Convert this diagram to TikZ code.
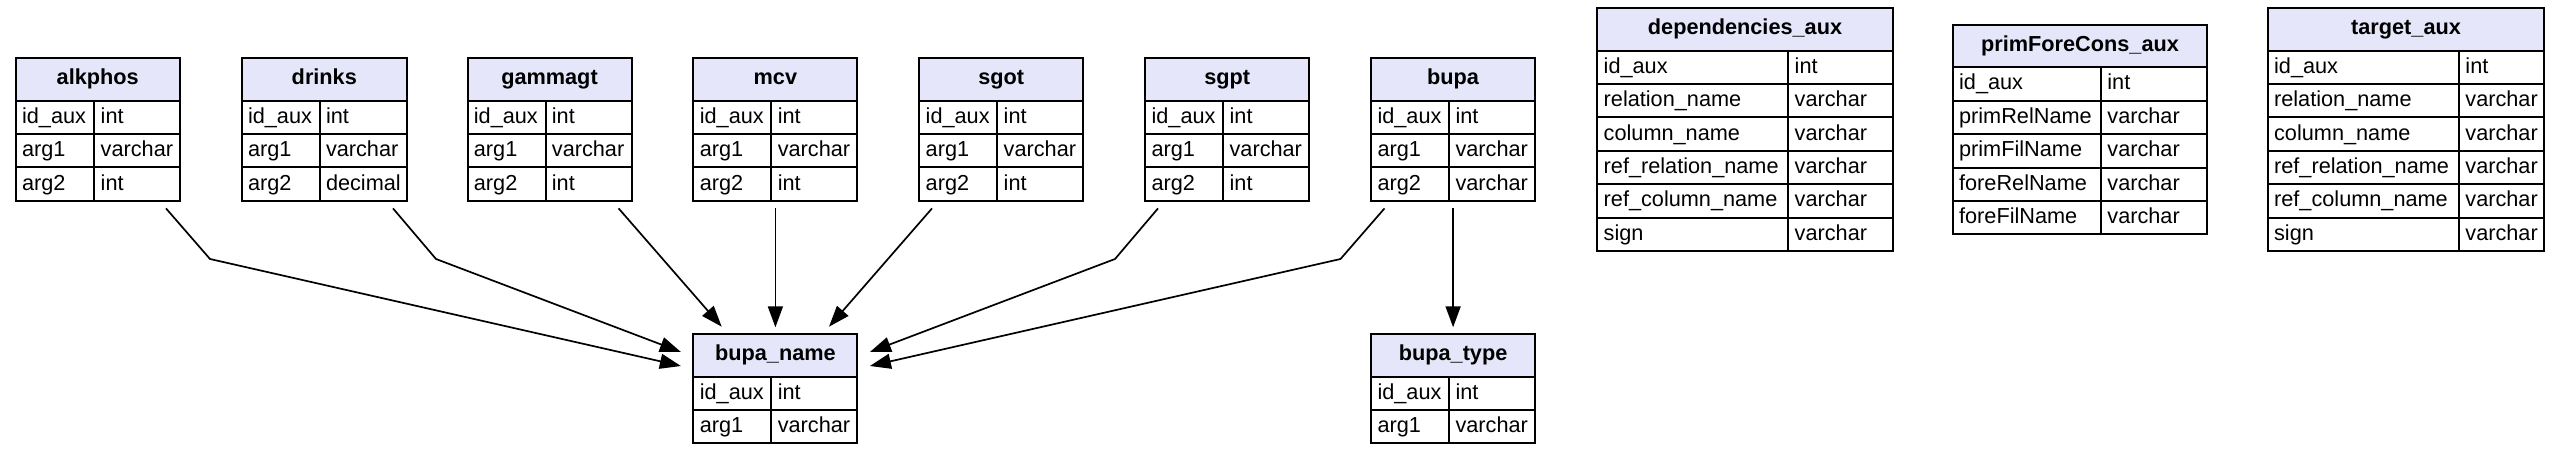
\documentclass[tikz,border=0pt]{standalone}
\usepackage{fontspec}
\setmainfont{Liberation Sans}
\usetikzlibrary{arrows.meta,calc}
\definecolor{hdr}{RGB}{230,230,250}
\tikzset{
  tabline/.style={draw=black, line width=1pt},
  hdrtext/.style={font=\fontsize{10.85}{13}\selectfont\bfseries, anchor=base, inner sep=0pt},
  celltext/.style={font=\fontsize{10.85}{13}\selectfont, anchor=base west, inner sep=0pt},
  conn/.style={draw=black, line width=0.85pt, -{Triangle[length=10.5pt,width=7.5pt]}},
  tabnode/.style={inner sep=0pt, outer sep=0pt, anchor=north west},
}
\newcommand{\dbtab}[8]{%
\begin{scope}[shift={(#2,#3)}]
\node[tabnode, minimum width={#4*0.5pt}, minimum height={(42.4+#8*33.4)*0.5pt}] (#1) at (0,0) {};
\filldraw[fill=hdr, tabline] (0,0) rectangle (#4,42.4);
\node[hdrtext] (#1-title) at ({#4/2},26.7) {#6};
\foreach [count=\i] \a/\b in {#7} {
  \draw[tabline] (0,{42.4+(\i-1)*33.4}) rectangle (#5,{42.4+\i*33.4});
  \draw[tabline] (#5,{42.4+(\i-1)*33.4}) rectangle (#4,{42.4+\i*33.4});
  \node[celltext] (#1-k\i) at (6,{42.4+(\i-1)*33.4+22.6}) {\a};
  \node[celltext] (#1-v\i) at ({#5+6},{42.4+(\i-1)*33.4+22.6}) {\b};
}
\end{scope}}
\begin{document}
\begin{tikzpicture}[x=0.5pt,y=-0.5pt]
\useasboundingbox (0,0) rectangle (2552,474);
\dbtab{alkphos}{15.7}{58.3}{164}{78.6}{alkphos}{id\_aux/int,arg1/varchar,arg2/int}{3}
\dbtab{drinks}{241.6}{58.3}{165.4}{78}{drinks}{id\_aux/int,arg1/varchar,arg2/decimal}{3}
\dbtab{gammagt}{467.5}{58.3}{164}{78}{gammagt}{id\_aux/int,arg1/varchar,arg2/int}{3}
\dbtab{mcv}{693.4}{58.3}{164}{78}{mcv}{id\_aux/int,arg1/varchar,arg2/int}{3}
\dbtab{sgot}{919.3}{58.3}{164}{78}{sgot}{id\_aux/int,arg1/varchar,arg2/int}{3}
\dbtab{sgpt}{1145.2}{58.3}{164}{78}{sgpt}{id\_aux/int,arg1/varchar,arg2/int}{3}
\dbtab{bupa}{1371.1}{58.3}{164}{78}{bupa}{id\_aux/int,arg1/varchar,arg2/varchar}{3}
\dbtab{bupaname}{693.4}{334.3}{164}{78}{bupa\_name}{id\_aux/int,arg1/varchar}{2}
\dbtab{bupatype}{1371.1}{334.3}{164}{78}{bupa\_type}{id\_aux/int,arg1/varchar}{2}
\dbtab{deps}{1597.3}{8.3}{295.4}{191}{dependencies\_aux}{id\_aux/int,relation\_name/varchar,column\_name/varchar,ref\_relation\_name/varchar,ref\_column\_name/varchar,sign/varchar}{6}
\dbtab{pfc}{1952.7}{25}{254.6}{148.3}{primForeCons\_aux}{id\_aux/int,primRelName/varchar,primFilName/varchar,foreRelName/varchar,foreFilName/varchar}{5}
\dbtab{target}{2267.7}{8.3}{276.6}{191.3}{target\_aux}{id\_aux/int,relation\_name/varchar,column\_name/varchar,ref\_relation\_name/varchar,ref\_column\_name/varchar,sign/varchar}{6}
% bends
\coordinate (b1) at (210,259);
\coordinate (b2) at (436,259);
\coordinate (b3) at (1115,259);
\coordinate (b4) at (1340.5,259);
% connectors
\draw[conn] ($(alkphos.south east)+(-13.7,7.5)$) -- (b1) -- ($(bupaname.north west)+(-12.5,31.7)$);
\draw[conn] ($(drinks.south east)+(-14,7.5)$) -- (b2) -- ($(bupaname.north west)+(-12.5,17.7)$);
\draw[conn] ($(gammagt.south east)+(-12.9,7.5)$) -- ($(bupaname.north west)+(28.3,-7.6)$);
\draw[conn] ($(mcv.south)+(0,7.5)$) -- ($(bupaname.north)+(0,-7)$);
\draw[conn] ($(sgot.south west)+(12.7,7.5)$) -- ($(bupaname.north east)+(-28.4,-7.6)$);
\draw[conn] ($(sgpt.south west)+(12.8,7.5)$) -- (b3) -- ($(bupaname.north east)+(12.5,17.7)$);
\draw[conn] ($(bupa.south west)+(13.4,7.5)$) -- (b4) -- ($(bupaname.north east)+(12.5,31.7)$);
\draw[conn] ($(bupa.south)+(0,7.5)$) -- ($(bupatype.north)+(0,-7)$);
\end{tikzpicture}
\end{document}
